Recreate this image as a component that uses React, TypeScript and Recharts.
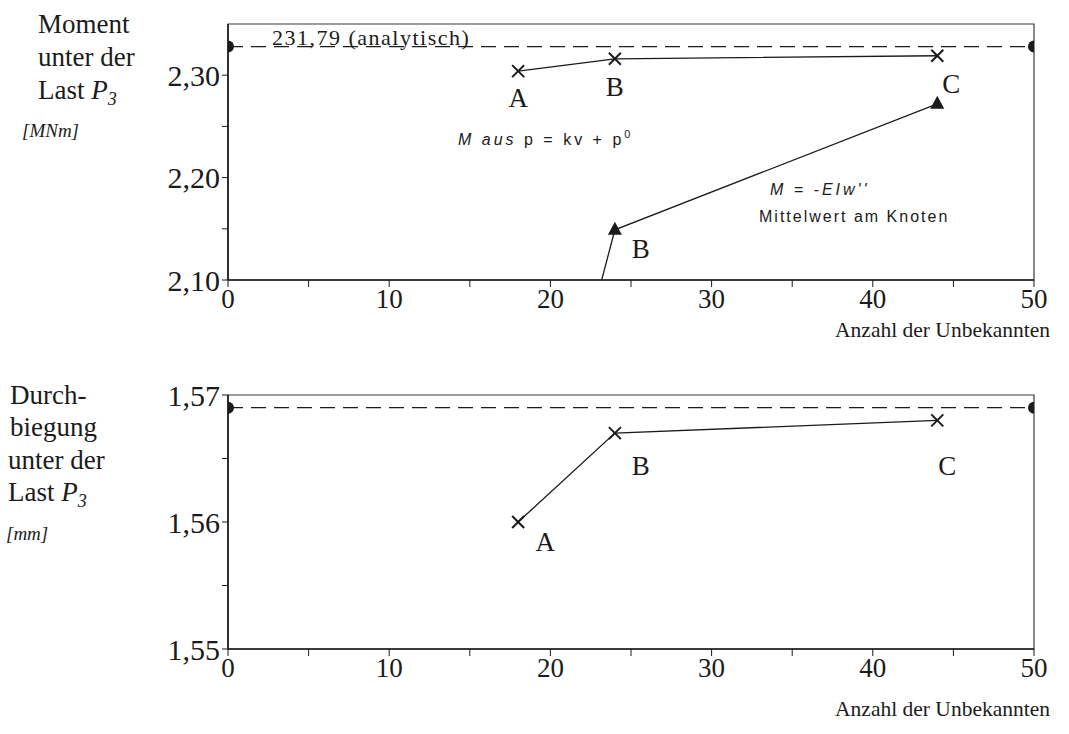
import React from 'react';
import { LineChart, Line, XAxis, YAxis, LabelList, ReferenceArea } from 'recharts';

// Netze A, B, C und ihre Anzahl der Unbekannten
const meshNames = ['A', 'B', 'C'];
const unknowns = [18, 24, 44];

// Moment unter der Last P3 [MNm]
const momentFromLoad = [2.304, 2.316, 2.319]; // M aus p = kv + p0
const momentFromCurvature = [1.79, 2.149, 2.272]; // M = -EIw'', Mittelwert am Knoten
const momentExact = 2.328;

// Durchbiegung unter der Last P3 [mm]
const deflection = [1.56, 1.567, 1.568];
const deflectionExact = 1.569;

const xRange: [number, number] = [0, 50];
const xTicks = [0, 5, 10, 15, 20, 25, 30, 35, 40, 45, 50];
const momentRange: [number, number] = [2.1, 2.35];
const momentTicks = [2.1, 2.15, 2.2, 2.25, 2.3];
const momentLabelled = [2.1, 2.2, 2.3];
const deflectionRange: [number, number] = [1.55, 1.57];
const deflectionTicks = [1.55, 1.555, 1.56, 1.565, 1.57];
const deflectionLabelled = [1.55, 1.56, 1.57];

const momentRows = unknowns.map((x, i) => ({
  x,
  name: meshNames[i],
  load: momentFromLoad[i],
  curvature: momentFromCurvature[i],
}));
const deflectionRows = unknowns.map((x, i) => ({ x, name: meshNames[i], w: deflection[i] }));
const momentExactRows = xRange.map((x) => ({ x, v: momentExact }));
const deflectionExactRows = xRange.map((x) => ({ x, v: deflectionExact }));

const SERIF = '"Liberation Serif", "Times New Roman", serif';
const SANS = '"Liberation Sans", "DejaVu Sans", sans-serif';
const INK = '#1b1b1b';

// letter offsets (dx, dy to baseline) next to each marker
const topCrossLabels: Record<string, [number, number]> = { A: [0, 36], B: [0, 37], C: [14, 37] };
const topTriangleLabels: Record<string, [number, number]> = { B: [26, 28] };
const bottomCrossLabels: Record<string, [number, number]> = { A: [27, 29], B: [26, 42], C: [10, 55] };

function Cross(props: any) {
  const { cx, cy } = props;
  if (cx == null || cy == null) return <g />;
  const s = 6;
  return (
    <g>
      <line x1={cx - s} y1={cy - s} x2={cx + s} y2={cy + s} stroke={INK} strokeWidth={2} />
      <line x1={cx - s} y1={cy + s} x2={cx + s} y2={cy - s} stroke={INK} strokeWidth={2} />
    </g>
  );
}

function Triangle(props: any) {
  const { cx, cy } = props;
  if (cx == null || cy == null) return <g />;
  return <path d={`M${cx},${cy - 8} L${cx + 7},${cy + 5} L${cx - 7},${cy + 5} Z`} fill={INK} />;
}

// half disc sitting on the frame, bulging into the plot
function EndDot(props: any) {
  const { cx, cy, payload } = props;
  if (cx == null || cy == null) return <g />;
  const r = 6;
  const atLeft = payload?.x === xRange[0];
  const sweep = atLeft ? 1 : 0;
  return <path d={`M${cx},${cy - r} A${r},${r} 0 0 ${sweep} ${cx},${cy + r} Z`} fill={INK} />;
}

const pointLabel = (offsets: Record<string, [number, number]>) => (props: any) => {
  const off = offsets[props.value];
  if (!off) return null;
  const x = props.x ?? props.viewBox?.x;
  const y = props.y ?? props.viewBox?.y;
  return (
    <text x={x + off[0]} y={y + off[1]} textAnchor="middle" fontFamily={SERIF} fontSize={27} fill={INK}>
      {props.value}
    </text>
  );
};

const comma = (digits: number, shown: number[]) => (v: number) =>
  shown.some((s) => Math.abs(s - v) < 1e-9) ? v.toFixed(digits).replace('.', ',') : '';

const xTickFmt = (v: number) => (v % 10 === 0 ? String(v) : '');

export default function App() {
  const axis = { stroke: INK, strokeWidth: 1.6 };
  const xTick = { fill: INK, fontSize: 27, fontFamily: SERIF };
  const yTick = { fill: INK, fontSize: 30, fontFamily: SERIF };

  return (
    <div style={{ position: 'absolute', left: 0, top: 0, width: 1069, height: 734, background: '#fff' }}>
      <div style={{ position: 'absolute', left: 0, top: 0 }}>
        <LineChart width={1069} height={360} data={momentRows} margin={{ top: 24, right: 35, left: 0, bottom: 0 }}>
          <XAxis
            dataKey="x"
            type="number"
            domain={xRange}
            ticks={xTicks}
            interval={0}
            tickFormatter={xTickFmt}
            allowDataOverflow
            height={80}
            tickSize={7}
            tickMargin={2}
            axisLine={axis}
            tickLine={{ stroke: INK }}
            tick={xTick}
          />
          <YAxis
            type="number"
            domain={momentRange}
            ticks={momentTicks}
            interval={0}
            tickFormatter={comma(2, momentLabelled)}
            allowDataOverflow
            width={228}
            tickSize={6}
            tickMargin={2}
            axisLine={axis}
            tickLine={{ stroke: INK }}
            tick={yTick}
          />
          <ReferenceArea
            x1={xRange[0]}
            x2={xRange[1]}
            y1={momentRange[0]}
            y2={momentRange[1]}
            fill="none"
            stroke="#3a3a3a"
            strokeWidth={1.2}
          />

          <Line
            data={momentExactRows}
            dataKey="v"
            stroke={INK}
            strokeWidth={1.3}
            strokeDasharray="15 8"
            dot={(p: any) => <EndDot key={`e${p.index}`} {...p} />}
            isAnimationActive={false}
          />
          <Line
            dataKey="load"
            stroke={INK}
            strokeWidth={1.3}
            dot={(p: any) => <Cross key={`c${p.index}`} {...p} />}
            isAnimationActive={false}
          >
            <LabelList dataKey="name" content={pointLabel(topCrossLabels)} />
          </Line>
          <Line
            dataKey="curvature"
            stroke={INK}
            strokeWidth={1.3}
            dot={(p: any) => <Triangle key={`t${p.index}`} {...p} />}
            isAnimationActive={false}
          >
            <LabelList dataKey="name" content={pointLabel(topTriangleLabels)} />
          </Line>
        </LineChart>
      </div>

      <div style={{ position: 'absolute', left: 0, top: 371 }}>
        <LineChart width={1069} height={363} data={deflectionRows} margin={{ top: 24, right: 35, left: 0, bottom: 0 }}>
          <XAxis
            dataKey="x"
            type="number"
            domain={xRange}
            ticks={xTicks}
            interval={0}
            tickFormatter={xTickFmt}
            allowDataOverflow
            height={85}
            tickSize={7}
            tickMargin={2}
            axisLine={axis}
            tickLine={{ stroke: INK }}
            tick={xTick}
          />
          <YAxis
            type="number"
            domain={deflectionRange}
            ticks={deflectionTicks}
            interval={0}
            tickFormatter={comma(2, deflectionLabelled)}
            allowDataOverflow
            width={228}
            tickSize={6}
            tickMargin={2}
            axisLine={axis}
            tickLine={{ stroke: INK }}
            tick={yTick}
          />
          <ReferenceArea
            x1={xRange[0]}
            x2={xRange[1]}
            y1={deflectionRange[0]}
            y2={deflectionRange[1]}
            fill="none"
            stroke="#3a3a3a"
            strokeWidth={1.2}
          />

          <Line
            data={deflectionExactRows}
            dataKey="v"
            stroke={INK}
            strokeWidth={1.3}
            strokeDasharray="15 8"
            dot={(p: any) => <EndDot key={`e${p.index}`} {...p} />}
            isAnimationActive={false}
          />
          <Line
            dataKey="w"
            stroke={INK}
            strokeWidth={1.3}
            dot={(p: any) => <Cross key={`c${p.index}`} {...p} />}
            isAnimationActive={false}
          >
            <LabelList dataKey="name" content={pointLabel(bottomCrossLabels)} />
          </Line>
        </LineChart>
      </div>

      {/* axis captions and annotations */}
      <svg width={1069} height={734} style={{ position: 'absolute', left: 0, top: 0, pointerEvents: 'none' }}>
        <g fontFamily={SERIF} fill={INK} fontSize={27}>
          <text x={38} y={33}>Moment</text>
          <text x={38} y={66}>unter der</text>
          <text x={38} y={99}>
            Last <tspan fontStyle="italic">P</tspan>
            <tspan fontStyle="italic" fontSize={18} dy={6}>3</tspan>
          </text>
          <text x={22} y={137} fontSize={19} fontStyle="italic">[MNm]</text>

          <text x={10} y={404}>Durch-</text>
          <text x={10} y={436}>biegung</text>
          <text x={8} y={469}>unter der</text>
          <text x={8} y={501}>
            Last <tspan fontStyle="italic">P</tspan>
            <tspan fontStyle="italic" fontSize={18} dy={6}>3</tspan>
          </text>
          <text x={6} y={540} fontSize={19} fontStyle="italic">[mm]</text>

          <text x={1050} y={337} fontSize={21.5} textAnchor="end">Anzahl der Unbekannten</text>
          <text x={1050} y={716} fontSize={21.5} textAnchor="end">Anzahl der Unbekannten</text>

          <text x={272} y={45} fontSize={22} letterSpacing={1.5}>231,79 (analytisch)</text>
        </g>
        <g fontFamily={SANS} fill={INK} fontSize={16}>
          <text x={458} y={145} letterSpacing={3}>
            <tspan fontStyle="italic">M aus</tspan> p = kv + p<tspan dy={-7} fontSize={11}>0</tspan>
          </text>
          <text x={770} y={195} fontStyle="italic" letterSpacing={3}>M = -EIw''</text>
          <text x={759} y={222} letterSpacing={2}>Mittelwert am Knoten</text>
        </g>
      </svg>
    </div>
  );
}
